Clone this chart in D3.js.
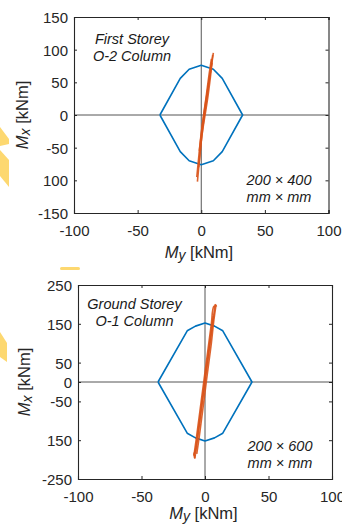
<!DOCTYPE html>
<html>
<head>
<meta charset="utf-8">
<script src="https://cdn.jsdelivr.net/npm/d3@7/dist/d3.min.js"></script>
<style>
  html, body { margin: 0; padding: 0; background: #fff; }
  svg { display: block; font-family: "Liberation Sans", Arial, sans-serif; }
</style>
</head>
<body>
<svg id="chart" width="342" height="532"></svg>
<script>
// ---------------- DATA ----------------
const xTicks = [-100, -50, 0, 50, 100];
const xTickLabels = ["-100", "-50", "0", "50", "100"];

const yTicksA = [150, 100, 50, 0, -50, -100, -150];
const yTickLabelsA = ["150", "100", "50", "0", "-50", "100", "-150"];

const yTicksB = [250, 150, 50, 0, -50, -150, -250];
const yTickLabelsB = ["250", "150", "50", "0", "-50", "150", "-250"];

// interaction diagram (My, Mx) in kNm
const capacityA = [
  [-32.5, 0], [-16.5, 56], [-9.5, 70], [0, 76], [9.5, 70], [16.5, 56], [32.5, 0],
  [16.5, -56], [9.5, -70], [0, -76], [-9.5, -70], [-16.5, -56], [-32.5, 0]
];
const capacityB = [
  [-37, 0], [-14, 132], [-7.5, 144], [0, 152], [7.5, 144], [14, 132], [37, 0],
  [14, -132], [7.5, -144], [0, -152], [-7.5, -144], [-14, -132], [-37, 0]
];

// demand (moment history) traces, (My, Mx)
const demandA1 = [[-3, -102], [-1.5, -70], [0, -40], [1.5, -15], [2.5, 0], [4, 20], [6, 50], [8, 75], [9.5, 95]];
const demandA2 = [[9, 92], [7.5, 70], [5.5, 45], [3.5, 20], [2, 0], [0.5, -20], [-1, -45], [-2.5, -75], [-3.5, -95]];
const demandA3 = [[-2, -80], [-0.5, -50], [1, -25], [3, 0], [5, 25], [7, 55], [8.5, 80]];
const demandA4 = [[8, 86], [6, 60], [4, 30], [2.2, 5], [0.3, -25], [-1.5, -55]];

const demandB1 = [[-8, -197], [-6, -150], [-4, -100], [-2, -50], [0, 0], [2, 50], [4, 100], [6, 150], [8, 200]];
const demandB2 = [[8, 200], [9, 196], [7, 195], [5, 150], [3, 100], [1, 50], [-1, 0], [-3, -50], [-5, -100], [-7, -150], [-8.5, -190], [-8, -197]];
const demandB3 = [[-6.5, -185], [-4.5, -140], [-2.5, -90], [-0.5, -40], [1, 0], [3, 50], [5, 100], [7, 160], [8.5, 195]];
const demandB4 = [[6.5, 170], [4.5, 120], [2.5, 70], [0.5, 20], [-1.5, -30], [-3.5, -80], [-5.5, -130], [-7.5, -175], [-8.8, -188], [-7.2, -190]];

const panels = [
  {
    box: { left: 74, right: 328.5, top: 17, bottom: 213 },
    yDomain: [-150, 150], yTicks: yTicksA, yTickLabels: yTickLabelsA,
    capacity: capacityA, demand: [demandA1, demandA2, demandA3, demandA4],
    label1: "First Storey", label2: "O-2 Column", labelX: 132, labelY: 44,
    size1: "200 \u00d7 400", size2: "mm \u00d7 mm", sizeX: 279, sizeY: 185,
    xTickY: 236, xTitleY: 258, xTitleX: 199, yTitleX: 28
  },
  {
    box: { left: 78, right: 332, top: 285, bottom: 479 },
    yDomain: [-250, 250], yTicks: yTicksB, yTickLabels: yTickLabelsB,
    capacity: capacityB, demand: [demandB1, demandB2, demandB3, demandB4],
    label1: "Ground Storey", label2: "O-1 Column", labelX: 134.5, labelY: 309,
    size1: "200 \u00d7 600", size2: "mm \u00d7 mm", sizeX: 280, sizeY: 451,
    xTickY: 502, xTitleY: 519, xTitleX: 203.5, yTitleX: 30
  }
];

// ---------------- DRAW ----------------
const svg = d3.select("#chart");
const axisColor = "#262626";

// decorative yellow shapes at the left edge of the reference
const deco = svg.append("g").attr("fill", "#fdd870");
deco.append("path").attr("d", "M0,127 L9,139 L9,144 L0,146 Z");
deco.append("path").attr("d", "M0,150 L9,160 L9,187 L0,176 Z");
deco.append("path").attr("d", "M0,332 L7,343 L7,362 L0,357 Z");
deco.append("rect").attr("x", 60).attr("y", 267).attr("width", 20).attr("height", 3).attr("rx", 1.5);

panels.forEach(p => {
  const b = p.box;
  const x = d3.scaleLinear().domain([-100, 100]).range([b.left, b.right]);
  const y = d3.scaleLinear().domain(p.yDomain).range([b.bottom, b.top]);
  const g = svg.append("g");

  // zero lines
  g.append("line").attr("x1", x(0)).attr("x2", x(0)).attr("y1", b.top).attr("y2", b.bottom)
    .attr("stroke", "#555").attr("stroke-width", 1);
  g.append("line").attr("x1", b.left).attr("x2", b.right).attr("y1", y(0)).attr("y2", y(0))
    .attr("stroke", "#555").attr("stroke-width", 1);

  const line = d3.line().x(d => x(d[0])).y(d => y(d[1]));

  // capacity envelope
  g.append("path").datum(p.capacity).attr("d", line)
    .attr("fill", "none").attr("stroke", "#0072bd").attr("stroke-width", 1.6)
    .attr("stroke-linejoin", "round");

  // demand traces
  const curve = d3.line().x(d => x(d[0])).y(d => y(d[1])).curve(d3.curveCatmullRom);
  p.demand.forEach(tr => {
    g.append("path").datum(tr).attr("d", curve)
      .attr("fill", "none").attr("stroke", "#d95319").attr("stroke-width", 1.6)
      .attr("stroke-opacity", 0.9);
  });

  // axes (ticks inward, mirrored)
  const bottomAxis = d3.axisBottom(x).tickValues(xTicks).tickSize(-3).tickFormat((d, i) => xTickLabels[i]);
  const topAxis = d3.axisTop(x).tickValues(xTicks).tickSize(-3).tickFormat("");
  const leftAxis = d3.axisLeft(y).tickValues(p.yTicks).tickSize(-3).tickFormat((d, i) => p.yTickLabels[i]);
  const rightAxis = d3.axisRight(y).tickValues(p.yTicks).tickSize(-3).tickFormat("");

  const styleAxis = sel => {
    sel.select(".domain").attr("stroke", axisColor).attr("stroke-width", 1.1);
    sel.selectAll(".tick line").attr("stroke", axisColor);
    sel.selectAll(".tick text").attr("fill", axisColor)
      .style("font-family", '"Liberation Sans", Arial, sans-serif').style("font-size", "15px");
  };

  const gb = g.append("g").attr("transform", `translate(0,${b.bottom})`).call(bottomAxis).call(styleAxis);
  gb.selectAll(".tick text").attr("y", null).attr("dy", null).attr("y", p.xTickY - b.bottom);
  g.append("g").attr("transform", `translate(0,${b.top})`).call(topAxis).call(styleAxis);
  const gl = g.append("g").attr("transform", `translate(${b.left},0)`).call(leftAxis).call(styleAxis);
  gl.selectAll(".tick text").attr("x", -6).attr("dy", "0.36em");
  g.append("g").attr("transform", `translate(${b.right},0)`).call(rightAxis).call(styleAxis);

  // annotations
  const ann = g.append("g").attr("fill", "#1a1a1a").style("font-style", "italic").style("font-size", "14.5px")
    .attr("text-anchor", "middle");
  ann.append("text").attr("x", p.labelX).attr("y", p.labelY).text(p.label1);
  ann.append("text").attr("x", p.labelX).attr("y", p.labelY + 16.5).text(p.label2);
  ann.append("text").attr("x", p.sizeX).attr("y", p.sizeY).text(p.size1);
  ann.append("text").attr("x", p.sizeX).attr("y", p.sizeY + 16.5).text(p.size2);

  // axis titles
  const xt = g.append("text").attr("x", p.xTitleX).attr("y", p.xTitleY).attr("text-anchor", "middle")
    .attr("fill", axisColor).style("font-size", "16.5px");
  xt.append("tspan").style("font-style", "italic").text("M");
  xt.append("tspan").style("font-style", "italic").style("font-size", "14px").attr("dy", 2).text("y");
  xt.append("tspan").attr("dy", -2).text(" [kNm]");

  const cy = (b.top + b.bottom) / 2;
  const yt = g.append("text").attr("transform", `translate(${p.yTitleX},${cy}) rotate(-90)`)
    .attr("text-anchor", "middle").attr("fill", axisColor).style("font-size", "16.5px");
  yt.append("tspan").style("font-style", "italic").text("M");
  yt.append("tspan").style("font-style", "italic").style("font-size", "14px").attr("dy", 2).text("x");
  yt.append("tspan").attr("dy", -2).text(" [kNm]");
});
</script>
</body>
</html>
